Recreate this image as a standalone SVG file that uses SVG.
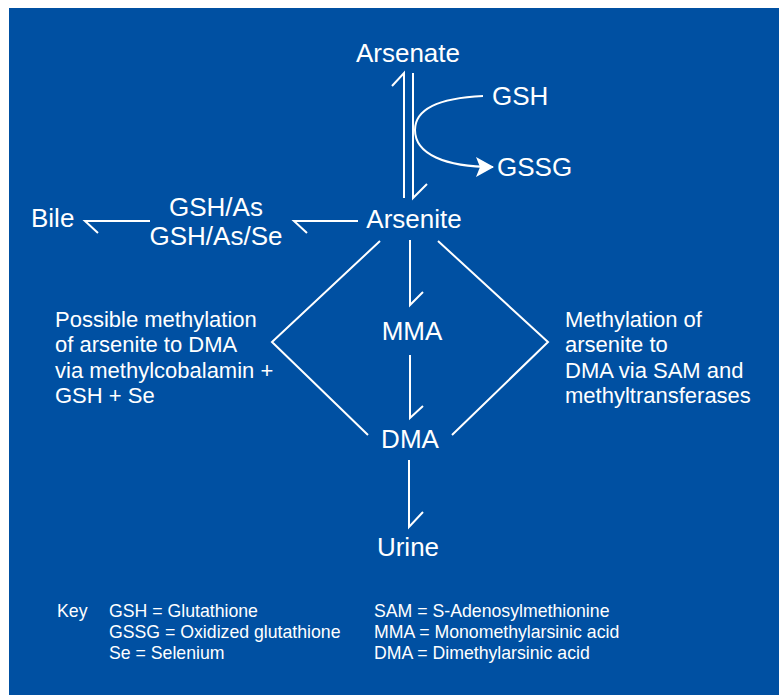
<svg xmlns="http://www.w3.org/2000/svg" width="779" height="696" viewBox="0 0 779 696">
<defs>
<style>
.bg{fill:#0050A2}
.ln{fill:none;stroke:#fff;stroke-width:2;stroke-linecap:butt;stroke-linejoin:miter}
.t{fill:#fff;font-family:"Liberation Sans",Arial,sans-serif;font-size:26px}
.m{text-anchor:middle}
.p{fill:#fff;font-family:"Liberation Sans",Arial,sans-serif;font-size:22px}
.k{fill:#fff;font-family:"Liberation Sans",Arial,sans-serif;font-size:17.7px}
</style>
<marker id="ah" viewBox="0 0 18 20" refX="17" refY="10" markerWidth="18" markerHeight="20" markerUnits="userSpaceOnUse" orient="auto">
<path d="M0,0 L18,10 L0,20 L4,10 Z" fill="#fff"/>
</marker>
</defs>
<rect class="bg" x="9" y="8" width="770" height="687"/>
<g id="connectors">
<path class="ln" d="M392,86 L404,73 L404,198"/>
<path class="ln" d="M413,73 L413,198 L427,184"/>
<path class="ln" d="M483,96 C440,98 415,108 415,130 C415,154 445,167 493,167" marker-end="url(#ah)"/>
<path class="ln" d="M358,221 L294,221 L307,233"/>
<path class="ln" d="M150,221 L85,221 L98,233"/>
<path class="ln" d="M410,240 L410,305 L423,292"/>
<path class="ln" d="M410,355 L410,418 L423,406"/>
<path class="ln" d="M409,460 L409,527 L423,512"/>
<path class="ln" d="M380,241 L272,342 L368,435"/>
<path class="ln" d="M438,241 L548,342 L452,435"/>
</g>
<g id="arsenate"><text class="t m" x="408" y="62">Arsenate</text></g>
<g id="gsh"><text class="t" x="492" y="105">GSH</text></g>
<g id="gssg"><text class="t" x="497" y="176">GSSG</text></g>
<g id="arsenite"><text class="t m" x="414" y="228">Arsenite</text></g>
<g id="bile"><text class="t" x="31" y="227">Bile</text></g>
<g id="gsh-as"><text class="t m" x="216" y="216">GSH/As</text><text class="t m" x="216" y="245">GSH/As/Se</text></g>
<g id="mma"><text class="t m" x="412" y="340">MMA</text></g>
<g id="dma"><text class="t m" x="410" y="448">DMA</text></g>
<g id="urine"><text class="t m" x="408" y="556">Urine</text></g>
<g id="left-note">
<text class="p" x="55" y="327">Possible methylation</text>
<text class="p" x="55" y="352">of arsenite to DMA</text>
<text class="p" x="55" y="378">via methylcobalamin +</text>
<text class="p" x="55" y="403">GSH + Se</text>
</g>
<g id="right-note">
<text class="p" x="565" y="327">Methylation of</text>
<text class="p" x="565" y="352">arsenite to</text>
<text class="p" x="565" y="378">DMA via SAM and</text>
<text class="p" x="565" y="403">methyltransferases</text>
</g>
<g id="key">
<text class="k" x="57" y="617">Key</text>
<text class="k" x="109" y="617">GSH = Glutathione</text>
<text class="k" x="109" y="638">GSSG = Oxidized glutathione</text>
<text class="k" x="109" y="659">Se = Selenium</text>
<text class="k" x="374" y="617">SAM = S-Adenosylmethionine</text>
<text class="k" x="374" y="638">MMA = Monomethylarsinic acid</text>
<text class="k" x="374" y="659">DMA = Dimethylarsinic acid</text>
</g>
</svg>
